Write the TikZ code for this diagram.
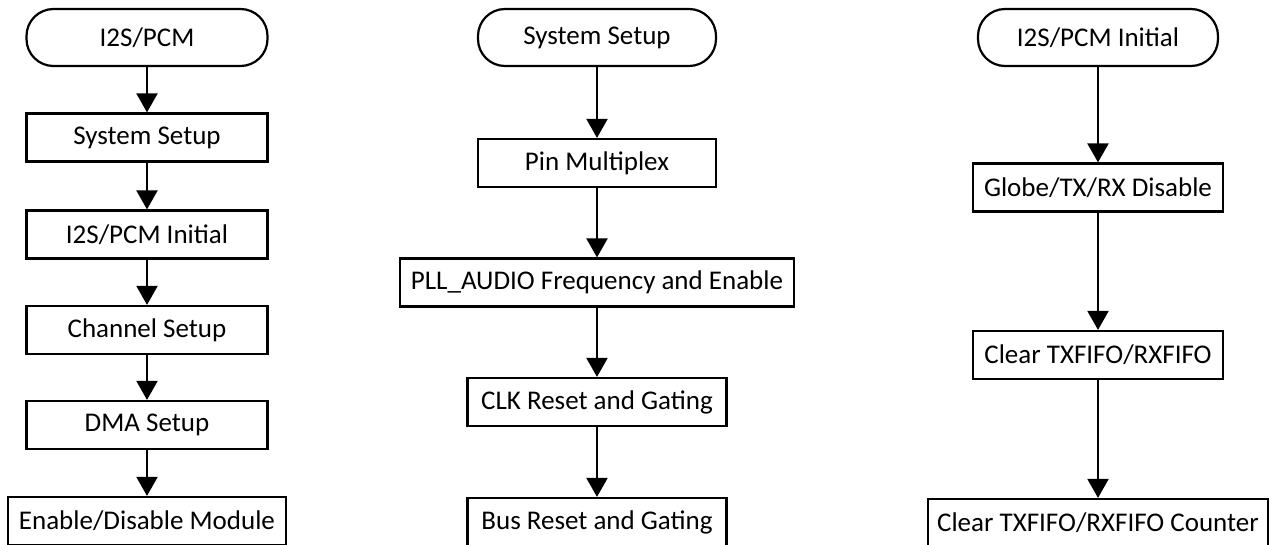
\documentclass[tikz,border=0pt]{standalone}
\usepackage{fontspec}
\setmainfont{Carlito}
\usetikzlibrary{arrows.meta}

\tikzset{
    box/.style={draw, line width=2.2pt, minimum height=48pt, inner sep=0pt,
        font=\fontsize{27}{31}\selectfont},
    terminal/.style={box, rounded corners=27pt, minimum height=57pt},
    flow/.style={line width=2.2pt, -{Triangle[width=21pt,length=19pt]}}
}

\begin{document}
\begin{tikzpicture}[x=1pt, y=-1pt]
    \useasboundingbox (0,0) rectangle (1271,544);

    % 第一列
    \node[terminal, minimum width=241pt] (pcm) at (147,37.5) {I2S/PCM};
    \node[box, minimum width=241pt] (sys) at (147,137.5) {System Setup};
    \node[box, minimum width=241pt] (init) at (147,234.5) {I2S/PCM Initial};
    \node[box, minimum width=241pt] (chan) at (147,330) {Channel Setup};
    \node[box, minimum width=241pt] (dma) at (147,425) {DMA Setup};
    \node[box, minimum width=278pt] (mod) at (147,521) {Enable/Disable Module};

    % 第二列
    \node[terminal, minimum width=238pt] (sysT) at (597,37.5) {System Setup};
    \node[box, minimum width=238pt] (pin) at (597,163) {Pin Multiplex};
    \node[box, minimum width=394pt] (pll) at (597,282.5) {PLL\_AUDIO Frequency and Enable};
    \node[box, minimum width=259pt] (clk) at (597,402) {CLK Reset and Gating};
    \node[box, minimum width=259pt] (bus) at (597,522) {Bus Reset and Gating};

    % 第三列
    \node[terminal, minimum width=240pt] (initT) at (1098,37.5) {I2S/PCM Initial};
    \node[box, minimum width=250pt] (dis) at (1098,187.5) {Globe/TX/RX Disable};
    \node[box, minimum width=250pt] (fifo) at (1098,355) {Clear TXFIFO/RXFIFO};
    \node[box, minimum width=340pt] (cnt) at (1098,523) {Clear TXFIFO/RXFIFO Counter};

    % 箭头连线
    \draw[flow] (pcm) -- (sys);
    \draw[flow] (sys) -- (init);
    \draw[flow] (init) -- (chan);
    \draw[flow] (chan) -- (dma);
    \draw[flow] (dma) -- (mod);

    \draw[flow] (sysT) -- (pin);
    \draw[flow] (pin) -- (pll);
    \draw[flow] (pll) -- (clk);
    \draw[flow] (clk) -- (bus);

    \draw[flow] (initT) -- (dis);
    \draw[flow] (dis) -- (fifo);
    \draw[flow] (fifo) -- (cnt);

\end{tikzpicture}
\end{document}
